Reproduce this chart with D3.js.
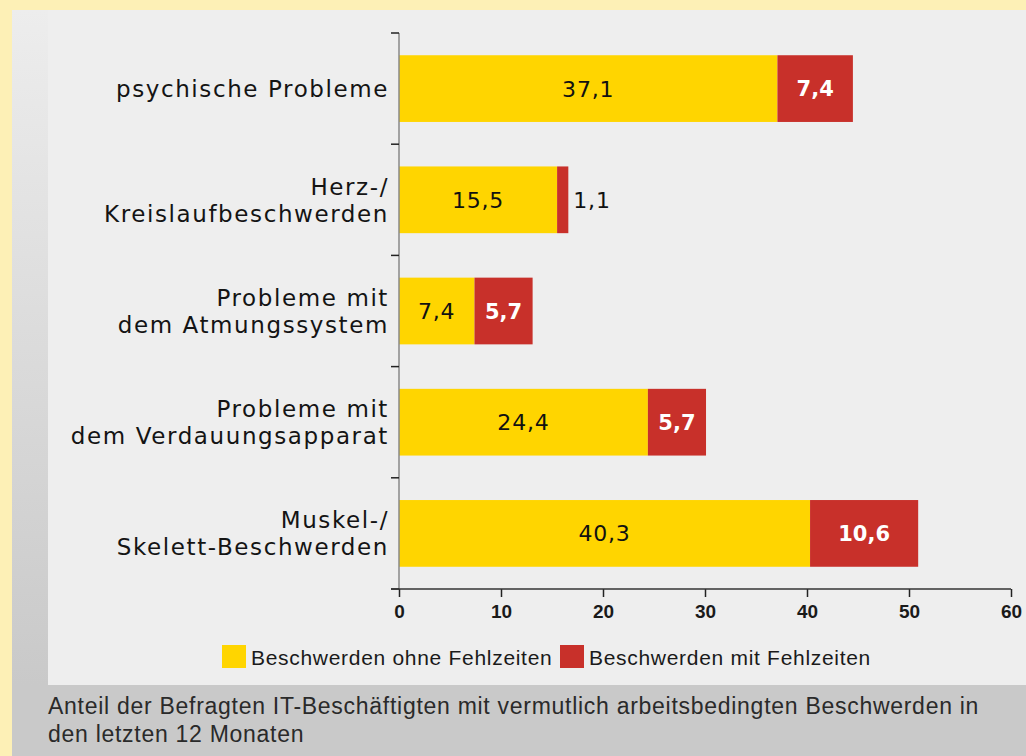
<!DOCTYPE html>
<html>
<head>
<meta charset="utf-8">
<script src="https://cdn.jsdelivr.net/npm/d3@7"></script>
<style>
  html, body { margin:0; padding:0; background:#fdf0b6; }
  svg { display:block; }
</style>
</head>
<body>
<div id="chart"></div>
<script>
// Beschwerden IT-Beschäftigte — gestapelte Balken
const categories = [
  ['psychische Probleme'],
  ['Herz-/', 'Kreislaufbeschwerden'],
  ['Probleme mit', 'dem Atmungssystem'],
  ['Probleme mit', 'dem Verdauungsapparat'],
  ['Muskel-/', 'Skelett-Beschwerden']
];
const ohneFehlzeiten = [37.1, 15.5, 7.4, 24.4, 40.3];
const mitFehlzeiten  = [7.4, 1.1, 5.7, 5.7, 10.6];
const seriesNames = ['Beschwerden ohne Fehlzeiten', 'Beschwerden mit Fehlzeiten'];
const xTicks = [0, 10, 20, 30, 40, 50, 60];
const caption = ['Anteil der Befragten IT-Beschäftigten mit vermutlich arbeitsbedingten Beschwerden in',
                 'den letzten 12 Monaten'];

(function(){
  const width = 1026, height = 756;
  const colors = ['#ffd500', '#c8302a'];
  const plain = '"Liberation Sans", Arial, Helvetica, sans-serif';
  const wide = '"DejaVu Sans", Verdana, sans-serif';

  const svg = d3.select('#chart').append('svg')
    .attr('width', width)
    .attr('height', height);

  // background panels
  const defs = svg.append('defs');
  const grad = defs.append('linearGradient')
    .attr('id','leftStrip').attr('x1',0).attr('y1',0).attr('x2',0).attr('y2',1);
  grad.append('stop').attr('offset','0%').attr('stop-color','#ededed');
  grad.append('stop').attr('offset','100%').attr('stop-color','#c9c9c9');

  svg.append('rect').attr('x',0).attr('y',0).attr('width',width).attr('height',height).attr('fill','#fdf0b6');
  svg.append('rect').attr('x',12).attr('y',10).attr('width',width-12).attr('height',height-10).attr('fill','#c9c9c9');
  svg.append('rect').attr('x',12).attr('y',10).attr('width',36).attr('height',675).attr('fill','url(#leftStrip)');
  svg.append('rect').attr('x',48).attr('y',10).attr('width',width-48).attr('height',675).attr('fill','#eeeeee');

  const data = categories.map((c,i) => ({label:c, a:ohneFehlzeiten[i], b:mitFehlzeiten[i], i}));

  const x = d3.scaleLinear().domain([0, 60]).range([399, 1011]);
  const y = d3.scaleBand().domain(d3.range(categories.length)).range([33, 589])
    .paddingInner(0.4).paddingOuter(0.2);

  // bars
  const rows = svg.append('g').selectAll('g').data(data).join('g');
  rows.append('rect')
    .attr('x', d => x(0))
    .attr('y', d => y(d.i))
    .attr('width', d => x(d.a) - x(0))
    .attr('height', y.bandwidth())
    .attr('fill', colors[0]);
  rows.append('rect')
    .attr('x', d => x(d.a))
    .attr('y', d => y(d.i))
    .attr('width', d => x(d.a + d.b) - x(d.a))
    .attr('height', y.bandwidth())
    .attr('fill', colors[1]);

  const fmt = v => String(v.toFixed(1)).replace('.', ',');
  const narrowSeg = d => (x(d.a + d.b) - x(d.a)) < 30;

  rows.append('text')
    .attr('x', d => (x(0) + x(d.a)) / 2)
    .attr('y', d => y(d.i) + y.bandwidth()/2)
    .attr('dy','0.36em')
    .attr('text-anchor','middle')
    .attr('font-family', wide)
    .attr('font-size', 22)
    .attr('letter-spacing', '0.8px')
    .attr('fill','#111')
    .text(d => fmt(d.a));

  rows.append('text')
    .attr('x', d => narrowSeg(d) ? x(d.a + d.b) + 5 : (x(d.a) + x(d.a + d.b)) / 2)
    .attr('y', d => y(d.i) + y.bandwidth()/2)
    .attr('dy','0.36em')
    .attr('text-anchor', d => narrowSeg(d) ? 'start' : 'middle')
    .attr('font-family', wide)
    .attr('font-size', d => narrowSeg(d) ? 22 : 21)
    .attr('letter-spacing', d => narrowSeg(d) ? '0.8px' : '0px')
    .attr('font-weight', d => narrowSeg(d) ? 'normal' : 'bold')
    .attr('fill', d => narrowSeg(d) ? '#111' : '#fff')
    .text(d => fmt(d.b));

  // category labels
  const lab = svg.append('g').selectAll('text').data(data).join('text')
    .attr('text-anchor','end')
    .attr('font-family', wide)
    .attr('font-size', 23)
    .attr('letter-spacing', '1.6px')
    .attr('fill','#141414');
  lab.each(function(d){
    const n = d.label.length;
    const cy = y(d.i) + y.bandwidth()/2;
    d3.select(this).selectAll('tspan').data(d.label).join('tspan')
      .attr('x', 389)
      .attr('y', (t,k) => cy + (k - (n-1)/2) * 27)
      .attr('dy','0.36em')
      .text(t => t);
  });

  // y axis: line + ticks at band boundaries
  const yAxis = svg.append('g');
  yAxis.append('line')
    .attr('x1',399).attr('x2',399).attr('y1',33).attr('y2',589)
    .attr('stroke','#888').attr('stroke-width',1.5);
  const bounds = d3.range(categories.length + 1).map(k => 33 + k * y.step());
  yAxis.selectAll('line.t').data(bounds).join('line')
    .attr('class','t')
    .attr('x1',391).attr('x2',399)
    .attr('y1', d => d).attr('y2', d => d)
    .attr('stroke','#222').attr('stroke-width',1.5);

  // x axis
  const xAxis = svg.append('g')
    .attr('transform','translate(0,589)')
    .call(d3.axisBottom(x).tickValues(xTicks).tickSize(8).tickSizeOuter(0).tickFormat(d3.format('d')));
  xAxis.select('.domain').remove();
  xAxis.append('line').attr('x1',391).attr('x2',1011).attr('y1',0).attr('y2',0)
    .attr('stroke','#333').attr('stroke-width',1.5);
  xAxis.selectAll('.tick line').attr('stroke','#222').attr('stroke-width',1.5);
  xAxis.selectAll('.tick text')
    .attr('y', 16)
    .attr('font-family', plain)
    .attr('font-size', 19)
    .attr('font-weight','bold')
    .attr('fill','#1a1a1a');

  // legend
  const legend = svg.append('g');
  const legX = [222, 560];
  seriesNames.forEach((s,k) => {
    legend.append('rect')
      .attr('x', legX[k]).attr('y', 645)
      .attr('width', 24).attr('height', 23)
      .attr('fill', colors[k]);
    legend.append('text')
      .attr('x', legX[k] + 29).attr('y', 657)
      .attr('dy','0.36em')
      .attr('font-family', plain)
      .attr('font-size', 21)
      .attr('letter-spacing', '0.7px')
      .attr('fill','#1a1a1a')
      .text(s);
  });

  // caption
  svg.append('g').selectAll('text').data(caption).join('text')
    .attr('x', 48)
    .attr('y', (d,k) => 706 + k * 28)
    .attr('dy','0.36em')
    .attr('font-family', plain)
    .attr('font-size', 23)
    .attr('letter-spacing', '0.72px')
    .attr('fill','#2a2a2a')
    .text(d => d);
})();
</script>
</body>
</html>
